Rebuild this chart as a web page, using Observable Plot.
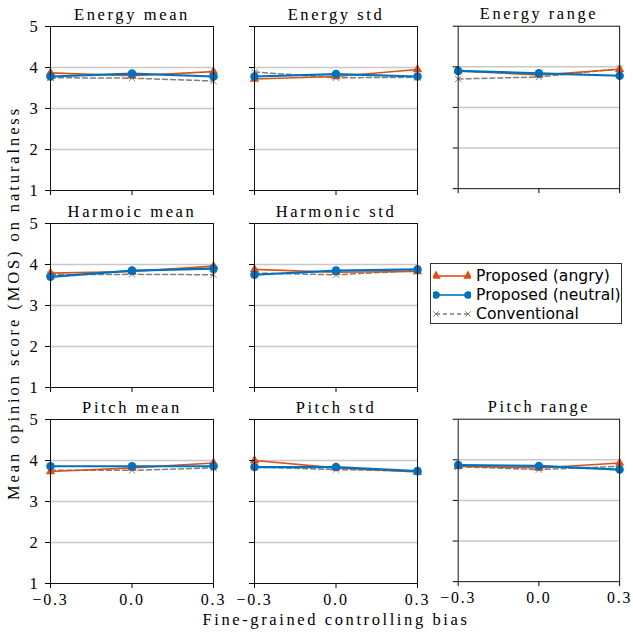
<!DOCTYPE html>
<html><head><meta charset="utf-8">
<script src="https://cdn.jsdelivr.net/npm/d3@7"></script>
<script src="https://cdn.jsdelivr.net/npm/@observablehq/plot@0.6"></script>
<style>
body{margin:0;background:#fff;}
#root{position:relative;width:633px;height:634px;overflow:hidden;font-family:"Liberation Serif",serif;background:#fff;}
.panel{position:absolute;}
.panel svg{overflow:visible;}
#ylabel{position:absolute;left:14px;top:303px;transform:translate(-50%,-50%) rotate(-90deg);white-space:nowrap;font-size:16.5px;letter-spacing:2.9px;}
#xlabel{position:absolute;left:336px;top:620px;transform:translate(-50%,-50%);white-space:nowrap;font-size:16.5px;letter-spacing:2.6px;}
#legend{position:absolute;left:430px;top:263px;width:192px;height:61px;border:1px solid #333;box-sizing:border-box;font-family:"DejaVu Sans",sans-serif;font-size:15.6px;background:#fff;}
.lrow{position:absolute;left:2px;height:19px;display:flex;align-items:center;}
.lrow svg{margin-right:5px;}
</style></head><body><div id="root">
<div id="ylabel">Mean opinion score (MOS) on naturalness</div>
<div id="xlabel">Fine-grained controlling bias</div>
<div id="legend"></div>
</div>
<script>
const biases = [-0.3, 0, 0.3];
const xTicks = [-0.3, 0, 0.3];
const yTicks = [1, 2, 3, 4, 5];
const gridValues = [2, 3, 4];
const panelTitles = ["Energy mean", "Energy std", "Energy range", "Harmoic mean", "Harmonic std", "Pitch mean", "Pitch std", "Pitch range"];
const panelRows = [0, 0, 0, 1, 1, 2, 2, 2];
const panelCols = [0, 1, 2, 0, 1, 0, 1, 2];
const seriesNames = ["Proposed (angry)", "Proposed (neutral)", "Conventional"];
// values per panel at bias -0.3, 0.0, 0.3
const angry = [
  [3.87, 3.80, 3.90],
  [3.72, 3.78, 3.95],
  [3.90, 3.80, 3.94],
  [3.79, 3.83, 3.96],
  [3.88, 3.81, 3.83],
  [3.73, 3.82, 3.94],
  [4.00, 3.82, 3.72],
  [3.84, 3.80, 3.92]
];
const neutral = [
  [3.78, 3.85, 3.78],
  [3.78, 3.84, 3.78],
  [3.90, 3.84, 3.78],
  [3.70, 3.85, 3.90],
  [3.75, 3.85, 3.88],
  [3.86, 3.86, 3.86],
  [3.84, 3.84, 3.74],
  [3.87, 3.85, 3.76]
];
const conventional = [
  [3.75, 3.74, 3.67],
  [3.89, 3.75, 3.76],
  [3.70, 3.75, 3.95],
  [3.75, 3.76, 3.75],
  [3.79, 3.75, 3.85],
  [3.76, 3.76, 3.82],
  [3.84, 3.78, 3.74],
  [3.83, 3.76, 3.84]
];

const colors = {angry: "#d95319", neutral: "#0072bd", conv: "#7f7f7f"};
const colLeft = [50, 254, 458];
const rowTop = [26, 223, 419];
const pw = 163, ph = 164;
const mL = 34, mR = 14, mT = 30, mB = 30;
const root = document.getElementById("root");

panelTitles.forEach((title, p) => {
  const r = panelRows[p], c = panelCols[p];
  const mk = vals => biases.map((b, i) => ({x: b, y: vals[p][i]}));
  const a = mk(angry), n = mk(neutral), cv = mk(conventional);
  const chart = Plot.plot({
    width: pw + mL + mR, height: ph + mT + mB,
    marginLeft: mL, marginRight: mR, marginTop: mT, marginBottom: mB,
    x: {domain: [-0.3, 0.3]},
    y: {domain: [1, 5]},
    style: {fontFamily: "'Liberation Serif', serif", fontSize: "16px", fontWeight: "normal", color: "#000", background: "transparent", overflow: "visible"},
    marks: [
      Plot.gridY(gridValues, {stroke: "#c8c8c8", strokeOpacity: 1, strokeWidth: 1.5}),
      Plot.line(cv, {x: "x", y: "y", stroke: colors.conv, strokeWidth: 1.5, strokeDasharray: "5,3"}),
      Plot.dot(cv, {x: "x", y: "y", symbol: "times", r: 3, stroke: colors.conv, strokeWidth: 1}),
      Plot.line(a, {x: "x", y: "y", stroke: colors.angry, strokeWidth: 1.6}),
      Plot.dot(a, {x: "x", y: "y", symbol: "triangle", r: 3.5, fill: colors.angry, stroke: "none"}),
      Plot.line(n, {x: "x", y: "y", stroke: colors.neutral, strokeWidth: 2.2}),
      Plot.dot(n, {x: "x", y: "y", symbol: "circle", r: 4.3, fill: colors.neutral, stroke: "none"}),
      Plot.frame({stroke: "#111", strokeWidth: 1}),
      Plot.axisY(yTicks, {tickSize: 5, tickPadding: 6, fontSize: 16.5, label: null,
        tickFormat: c === 0 ? d => String(d) : () => ""}),
      Plot.axisX(xTicks, {tickSize: 5, tickPadding: 5, fontSize: 16, label: null,
        tickFormat: r === 2 ? d3.format(".1f") : () => ""}),
      Plot.text([title], {frameAnchor: "top", lineAnchor: "bottom", dy: -7, fontSize: 16.5, fontWeight: 400,
        text: d => d, fill: "#000", stroke: "none"})
    ]
  });
  d3.select(chart).selectAll('g[aria-label="text"] text').style("letter-spacing", "2.6px");
  d3.select(chart).selectAll('g[aria-label="x-axis tick label"] text, g[aria-label="y-axis tick label"] text').style("letter-spacing", "1.8px");
  const div = document.createElement("div");
  div.className = "panel";
  div.style.left = (colLeft[c] - mL) + "px";
  div.style.top = (rowTop[r] - mT) + "px";
  div.appendChild(chart);
  root.appendChild(div);
});

// legend
const legend = document.getElementById("legend");
const legendColors = [colors.angry, colors.neutral, colors.conv];
seriesNames.forEach((name, i) => {
  const row = document.createElement("div");
  row.className = "lrow";
  row.style.top = (2 + i * 19) + "px";
  const svg = d3.create("svg").attr("width", 38).attr("height", 14);
  const line = svg.append("line").attr("x1", 3).attr("x2", 35).attr("y1", 7).attr("y2", 7)
    .attr("stroke", legendColors[i]).attr("stroke-width", i === 2 ? 1.3 : 1.6);
  if (i === 2) line.attr("stroke-dasharray", "4,3");
  [3, 35].forEach(x => {
    const sym = d3.symbol(i === 0 ? d3.symbolTriangle : i === 1 ? d3.symbolCircle : d3.symbolTimes, i === 1 ? 45 : i === 0 ? 40 : 20);
    const path = svg.append("path").attr("d", sym()).attr("transform", `translate(${x},7)`);
    if (i === 2) path.attr("fill", "none").attr("stroke", legendColors[i]).attr("stroke-width", 1);
    else path.attr("fill", legendColors[i]);
  });
  row.appendChild(svg.node());
  const span = document.createElement("span");
  span.textContent = name;
  row.appendChild(span);
  legend.appendChild(row);
});
</script>
</body></html>
